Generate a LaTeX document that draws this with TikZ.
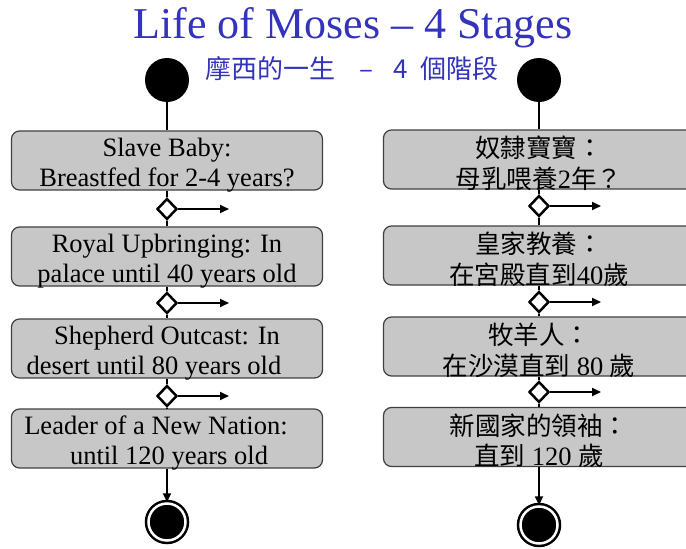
\documentclass[tikz,border=0pt]{standalone}
\usepackage{fontspec}
\setmainfont{Liberation Serif}
\newfontfamily\cjk{Noto Sans CJK TC}
\usetikzlibrary{arrows.meta,shapes.geometric}
\definecolor{titleblue}{RGB}{51,51,187}
\newcommand{\zh}[1]{{\cjk\fontsize{25.5}{30.5}\selectfont #1}}

\begin{document}
\begin{tikzpicture}[x=1pt,y=-1pt,
  stage/.style={draw=black!75,line width=1.2pt,fill=black!22,rounded corners=8pt,minimum width=311pt,minimum height=59pt,inner sep=0pt,align=center,font=\fontsize{26.5}{30.5}\selectfont,text height=52pt,text depth=0pt},
  zhstage/.style={stage,text height=57pt},
  choice/.style={diamond,draw,fill=white,line width=2.5pt,minimum width=20pt,minimum height=21pt,inner sep=0pt},
  startdot/.style={circle,fill=black,minimum size=44pt,inner sep=0pt},
  enddot/.style={circle,fill=black,draw=black,double=white,double distance=2.5pt,line width=2.5pt,minimum size=37pt,inner sep=0pt},
  flow/.style={line width=2pt},
  >={Triangle[length=9pt,width=8pt]}]
\useasboundingbox (0,0) rectangle (686,549);
\clip (0,0) rectangle (686,549);
\node[font=\fontsize{44}{48}\selectfont,text=titleblue] (title) at (353,28) {Life of Moses -- 4 Stages};
\node[font=\cjk\fontsize{26}{30}\selectfont,text=titleblue] (subtitle) at (352,69) {摩西的一生\hspace{24pt}–\hspace{20pt}4\hspace{13pt}個階段};
% left column
\node[startdot] (ls) at (167,80) {};
\node[stage] (l1) at (167,160.5) {Slave Baby:\\Breastfed for 2-4 years?};
\node[stage] (l2) at (167,256.5) {Royal Upbringing: In\\palace until 40 years old};
\node[stage] (l3) at (167,348.5) {Shepherd Outcast: In\\desert until 80 years old\hspace*{26pt}};
\node[stage] (l4) at (167,438.5) {Leader of a New Nation:\hspace*{22pt}\\\hspace*{4pt}until 120 years old};
\node[enddot] (le) at (167,522) {};
% right column
\node[startdot] (rs) at (539,80) {};
\node[zhstage] (r1) at (539,159.5) {\zh{奴隸寶寶：}\\\zh{母乳喂養}2\zh{年？}};
\node[zhstage] (r2) at (539,255.5) {\zh{皇家教養：}\\\zh{在宮殿直到}40\zh{歲}};
\node[zhstage] (r3) at (539,346.5) {\zh{牧羊人：}\\\zh{在沙漠直到} 80 \zh{歲}};
\node[zhstage] (r4) at (539,437) {\zh{新國家的領袖：}\\\zh{直到} 120 \zh{歲}};
\node[enddot] (re) at (539,525) {};
% branch points
\foreach \name/\x/\y in {ld1/167/209,ld2/167/303,ld3/167/396,rd1/539/206,rd2/539/302,rd3/539/392}{
  \node[choice] (\name) at (\x,\y) {};
  \coordinate (\name o) at (\x+62,\y);
  \draw[flow,->] (\name) -- (\name o);
}
\draw[flow] (ls) -- (l1) -- (ld1) -- (l2) -- (ld2) -- (l3) -- (ld3) -- (l4);
\draw[flow] (rs) -- (r1) -- (rd1) -- (r2) -- (rd2) -- (r3) -- (rd3) -- (r4);
\draw[flow,->] (l4) -- (le);
\draw[flow,->] (r4) -- (re);
\end{tikzpicture}
\end{document}
